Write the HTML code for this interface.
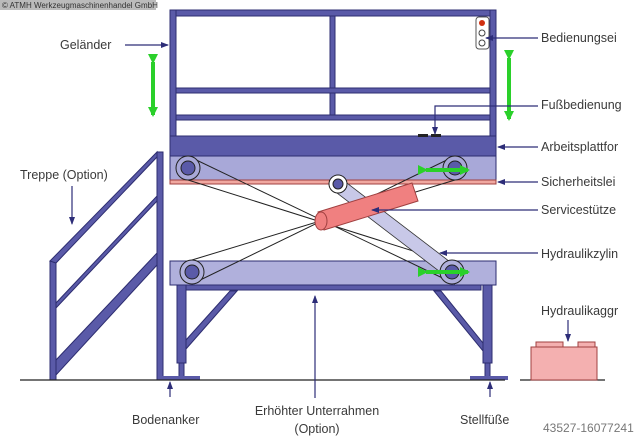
<!DOCTYPE html>
<html><head><meta charset="utf-8"><style>
html,body{margin:0;padding:0;background:#fff;}
svg{display:block;font-family:"Liberation Sans",sans-serif;}
</style></head><body>
<svg width="640" height="439" viewBox="0 0 640 439" xmlns="http://www.w3.org/2000/svg">
<defs>
<marker id="a" markerWidth="8" markerHeight="8" refX="7" refY="4" orient="auto" markerUnits="userSpaceOnUse"><path d="M0,1 L8,4 L0,7 Z" fill="#2d2d78"/></marker>
<marker id="g" markerWidth="10" markerHeight="10" refX="8" refY="5" orient="auto" markerUnits="userSpaceOnUse"><path d="M0,0 L10,5 L0,10 Z" fill="#2ad02a"/></marker>
</defs>
<rect x="0" y="0" width="640" height="439" fill="#fff"/>
<rect x="0" y="0" width="156" height="10" fill="#bbb"/>
<text x="2" y="8" font-size="8" fill="#333">© ATMH Werkzeugmaschinenhandel GmbH</text>

<!-- stairs -->
<g fill="#5a5aa8" stroke="#2d2d70" stroke-width="1">
<rect x="50" y="261" width="6" height="119"/>
<rect x="157" y="152" width="6" height="228"/>
<polygon points="50,261 157,152 157,157 56,263"/>
<polygon points="56,303 157,196 157,201 56,308"/>
<polygon points="56,360 157,253 157,265 56,375"/>
</g>

<!-- railing -->
<g fill="#5a5aa8" stroke="#2d2d70" stroke-width="1">
<rect x="170" y="10" width="326" height="6"/>
<rect x="170" y="10" width="6" height="127"/>
<rect x="490" y="10" width="6" height="127"/>
<rect x="330" y="16" width="5" height="100"/>
<rect x="176" y="88" width="314" height="5"/>
<rect x="176" y="115" width="314" height="5"/>
<rect x="170" y="136" width="326" height="20"/>
<rect x="170" y="156" width="326" height="24" fill="#a8a8d8"/>
<rect x="170" y="180" width="326" height="4" fill="#f0a8a0" stroke="#a04040"/>
<rect x="170" y="261" width="326" height="24" fill="#b0b0dc"/>
<rect x="185" y="285" width="296" height="5"/>
<rect x="177" y="285" width="9" height="78"/>
<rect x="483" y="285" width="9" height="78"/>
<rect x="179" y="363" width="5" height="15"/>
<rect x="485" y="363" width="5" height="15"/>
<polygon points="230,291 237,291 186,349 186,340"/>
<polygon points="434,291 441,291 483,343 483,351"/>
</g>
<rect x="162" y="376" width="38" height="4" fill="#5a5aa8"/>
<rect x="470" y="376" width="38" height="4" fill="#5a5aa8"/>
<!-- control panel -->
<rect x="476" y="17" width="13" height="32" rx="3" fill="#fff" stroke="#555"/>
<circle cx="482" cy="23" r="3" fill="#d03010"/>
<circle cx="482" cy="33" r="3" fill="#fff" stroke="#444"/>
<circle cx="482" cy="43" r="3" fill="#fff" stroke="#444"/>
<rect x="418" y="134" width="10" height="3" fill="#222"/>
<rect x="431" y="134" width="10" height="3" fill="#222"/>

<!-- scissor arms -->
<g stroke="#222" stroke-width="1" fill="none">
<line x1="188" y1="156" x2="455" y2="284"/>
<line x1="188" y1="180" x2="448" y2="262"/>
<line x1="192" y1="284" x2="455" y2="156"/>
<line x1="192" y1="260" x2="455" y2="180"/>
</g>
<!-- hydraulic arm -->
<polygon points="333,190 343,180 458,268 448,278" fill="#c8c8e8" stroke="#333" stroke-width="0.8"/>
<!-- red cylinder -->
<polygon points="318,212 412,183 418,201 324,230" fill="#f08080" stroke="#a04040"/>
<ellipse cx="321" cy="221" rx="6" ry="9" fill="#f08080" stroke="#a04040"/>
<!-- wheels -->
<g stroke="#222" stroke-width="1">
<circle cx="188" cy="168" r="12" fill="#a8a8d8"/><circle cx="188" cy="168" r="7" fill="#5a5aa8"/>
<circle cx="455" cy="168" r="12" fill="#a8a8d8"/><circle cx="455" cy="168" r="7" fill="#5a5aa8"/>
<circle cx="192" cy="272" r="12" fill="#b0b0dc"/><circle cx="192" cy="272" r="7" fill="#5a5aa8"/>
<circle cx="452" cy="272" r="12" fill="#b0b0dc"/><circle cx="452" cy="272" r="7" fill="#5a5aa8"/>
<circle cx="338" cy="184" r="9" fill="#fff"/><circle cx="338" cy="184" r="5" fill="#5a5aa8"/>
</g>

<!-- ground -->
<line x1="20" y1="380" x2="505" y2="380" stroke="#222" stroke-width="1.2"/>
<line x1="520" y1="380" x2="605" y2="380" stroke="#222" stroke-width="1.2"/>
<!-- hydraulic unit -->
<g fill="#f4b0b0" stroke="#a04040">
<rect x="531" y="347" width="66" height="33"/>
<rect x="536" y="342" width="27" height="5"/>
<rect x="578" y="342" width="17" height="5"/>
</g>

<!-- green arrows -->
<g stroke="#2ad02a" stroke-width="4" fill="none">
<line x1="153" y1="62" x2="153" y2="115" marker-start="url(#g)" marker-end="url(#g)"/>
<line x1="509" y1="58" x2="509" y2="119" marker-start="url(#g)" marker-end="url(#g)"/>
<line x1="426" y1="170" x2="468" y2="170" marker-start="url(#g)" marker-end="url(#g)"/>
<line x1="426" y1="272" x2="468" y2="272" marker-start="url(#g)" marker-end="url(#g)"/>
</g>

<!-- leaders -->
<g stroke="#2d2d78" stroke-width="1.2" fill="none">
<line x1="125" y1="45" x2="168" y2="45" marker-end="url(#a)"/>
<line x1="72" y1="186" x2="72" y2="224" marker-end="url(#a)"/>
<line x1="538" y1="38" x2="486" y2="38" marker-end="url(#a)"/>
<polyline points="538,106 435,106 435,134" marker-end="url(#a)"/>
<line x1="538" y1="147" x2="498" y2="147" marker-end="url(#a)"/>
<line x1="538" y1="182" x2="498" y2="182" marker-end="url(#a)"/>
<line x1="538" y1="210" x2="372" y2="210" marker-end="url(#a)"/>
<line x1="538" y1="253" x2="440" y2="253" marker-end="url(#a)"/>
<line x1="568" y1="320" x2="568" y2="341" marker-end="url(#a)"/>
<line x1="315" y1="398" x2="315" y2="296" marker-end="url(#a)"/>
<line x1="170" y1="397" x2="170" y2="382" marker-end="url(#a)"/>
<line x1="490" y1="397" x2="490" y2="382" marker-end="url(#a)"/>
</g>

<!-- labels -->
<g font-size="12.5" fill="#3a3a3a">
<text x="60" y="49">Geländer</text>
<text x="20" y="179">Treppe (Option)</text>
<text x="541" y="42">Bedienungsei</text>
<text x="541" y="109">Fußbedienung</text>
<text x="541" y="151">Arbeitsplattfor</text>
<text x="541" y="186">Sicherheitslei</text>
<text x="541" y="214">Servicestütze</text>
<text x="541" y="258">Hydraulikzylin</text>
<text x="541" y="315">Hydraulikaggr</text>
<text x="132" y="424">Bodenanker</text>
<text x="317" y="415" text-anchor="middle">Erhöhter Unterrahmen</text>
<text x="317" y="433" text-anchor="middle">(Option)</text>
<text x="460" y="424">Stellfüße</text>
</g>
<text x="543" y="432" font-size="12" fill="#777">43527-16077241</text>
</svg>
</body></html>
